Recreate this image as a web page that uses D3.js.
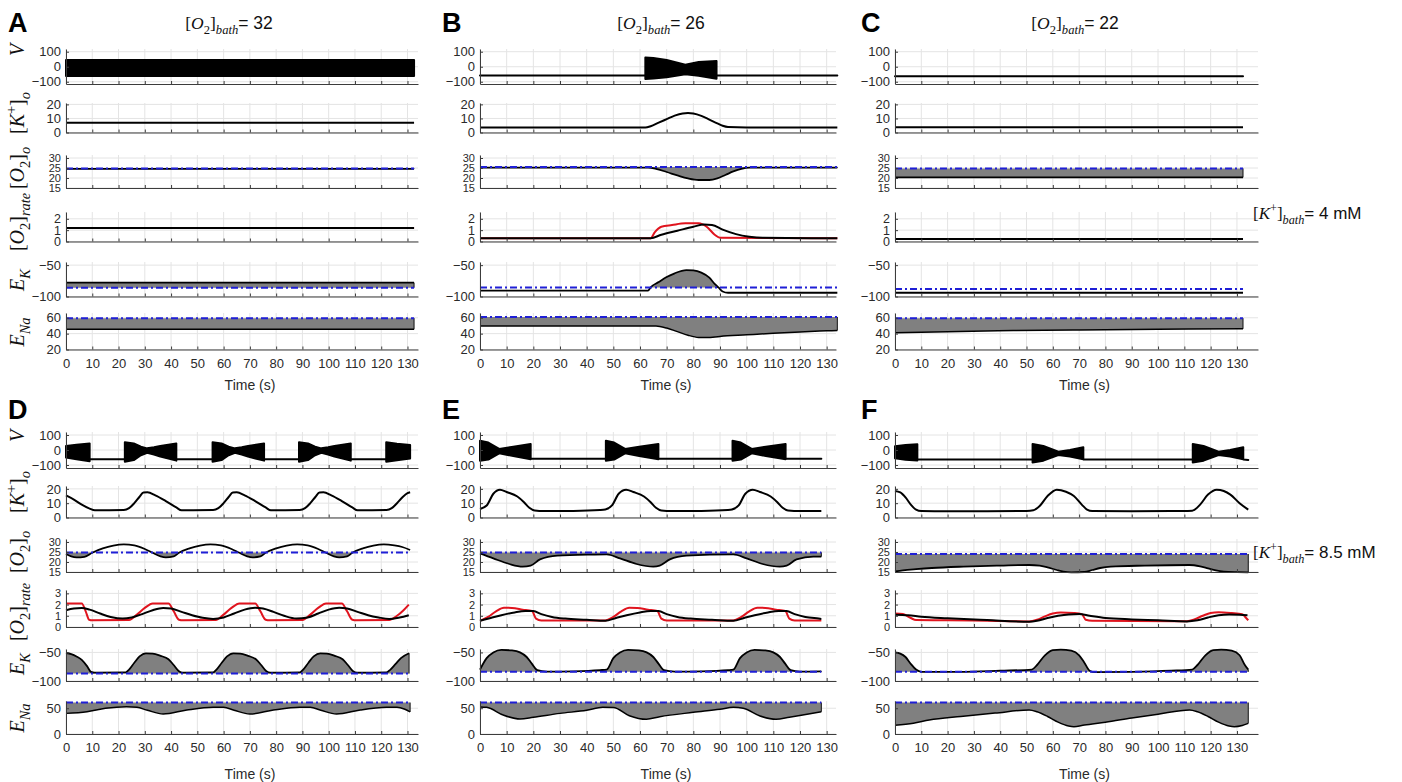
<!DOCTYPE html>
<html lang="en">
<head>
<meta charset="UTF-8">
<title>Oxygen / potassium bath simulations</title>
<script src="https://cdnjs.cloudflare.com/ajax/libs/d3/7.8.5/d3.min.js"></script>
<style>
  body { margin: 0; background: #fff; }
  svg { display: block; }
</style>
</head>
<body>
<svg width="1402" height="782"></svg>
<script>
// ---- tick labels ----
const timeTicks = [0, 10, 20, 30, 40, 50, 60, 70, 80, 90, 100, 110, 120, 130];
const vTicks = [-100, 0, 100];
const kTicks = [0, 10, 20];
const o2Ticks = [15, 20, 25, 30];
const rateTicksTop = [0, 1, 2];
const rateTicksBottom = [0, 1, 2, 3];
const ekTicks = [-100, -50];
const enaTicksTop = [20, 40, 60];
const enaTicksBottom = [0, 50];

const o2BathLabels = ["32", "26", "22"];
const kBathLabels = ["4 mM", "8.5 mM"];

// ---- thresholds (blue dash-dot), panels A..F ----
const o2Thresh = [24.8, 25.5, 24.8, 24.8, 24.8, 24.0];
const ekThresh = [-86, -85.5, -88, -87, -84, -84];
const enaThresh = [59.5, 61, 59.5, 61, 61, 61];

// ---- V envelopes: [t, upper, lower] ----
const vA = [[0, 45, -62], [132.5, 45, -62]];
const vB = [[0, -58, -58], [62, -58, -58], [62, 62, -81], [65, 58, -79], [70, 45, -70], [77, 14, -50], [82, 32, -60], [88.7, 38, -80], [88.7, -58, -58], [134, -59, -59]];
const vC = [[0, -64, -64], [132.3, -64, -64]];
const vD = [[0, 27, -50], [4, 35, -62], [9, 44, -75], [9, -62, -62],
  [22.4, -62, -62], [22.4, 51, -78], [25.8, 44, -67], [28.5, 22, -35], [30.9, 11, -18], [33.5, 18, -30], [35.9, 27, -44], [42, 44, -71], [42, -62, -62],
  [55.8, -62, -62], [55.8, 51, -78], [59.2, 44, -67], [61.9, 22, -35], [64.3, 11, -18], [66.9, 18, -30], [69.3, 27, -44], [75.4, 44, -71], [75.4, -62, -62],
  [88.7, -62, -62], [88.7, 51, -78], [92.1, 44, -67], [94.8, 22, -35], [97.2, 11, -18], [99.8, 18, -30], [102.2, 27, -44], [108.4, 44, -71], [108.4, -62, -62],
  [121.9, -62, -62], [121.9, 51, -78], [126, 42, -68], [131, 33, -56]];
const vE = [[0, 62, -71], [3.1, 50, -64], [7.2, 7, -22], [12.5, 22, -40], [19, 40, -62], [19, -58, -58],
  [47.2, -58, -58], [47.2, 62, -71], [50.3, 50, -64], [54.4, 7, -22], [59.7, 22, -40], [66.9, 40, -62], [66.9, -58, -58],
  [94.7, -58, -58], [94.7, 62, -71], [97.8, 50, -64], [101.9, 7, -22], [107.2, 22, -40], [114.6, 40, -62], [114.6, -58, -58],
  [128, -58, -58]];
const vF = [[0, 25, -55], [4, 33, -65], [8.5, 38, -70], [8.5, -64, -64],
  [52.3, -64, -64], [52.3, 40, -84], [56.4, 27, -71], [62.1, -11, -33], [66.5, 0, -44], [71.6, 18, -62], [71.6, -64, -64],
  [113.2, -64, -64], [113.2, 40, -84], [117.3, 27, -71], [123, -11, -33], [127.4, 0, -44], [132.4, 18, -62], [132.4, -64, -64],
  [134.3, -66, -66]];

// ---- [K+]o ----
const kA = [[0, 7], [132.5, 7]];
const kB = [[0, 3.6], [62, 3.6], [64, 4.5], [67, 7], [70, 9.5], [73, 12], [76, 13.6], [78, 13.9], [80, 13.5], [83, 11.8], [86, 9.2], [89, 6.5], [91, 4.8], [93, 3.9], [100, 3.6], [134, 3.6]];
const kC = [[0, 3.8], [132.3, 3.8]];
const kD = [[0, 15.4], [3, 12.5], [6, 9], [9, 6.2], [11, 5], [22, 5.2], [24, 6.5], [26, 10], [28, 14.5], [29.5, 17.5], [31, 17.6], [34, 15.5], [38, 11.5], [42, 7], [44, 5],
  [56, 5.2], [58, 6.5], [60, 10], [62, 14.5], [63.5, 17.5], [65, 17.6], [68, 15.5], [72, 11.5], [76, 7], [78, 5],
  [89, 5.2], [91, 6.5], [93, 10], [95, 14.5], [96.5, 17.5], [98, 17.6], [101, 15.5], [105, 11.5], [109, 7], [111, 5],
  [122, 5.2], [124, 6.5], [126, 10], [128, 14], [130, 17], [131, 17.6]];
const kE = [[0, 6], [2.5, 8.4], [5, 16.6], [7.5, 19.4], [10, 17.8], [14, 14.7], [16.5, 10.7], [18.5, 6.8], [20.5, 4.9], [24, 4.5], [35, 4.6], [45, 5.2],
  [47, 5.6], [49.5, 8.4], [52, 16.6], [54.8, 19.4], [57.5, 17.8], [61.5, 14.7], [64, 10.7], [66, 6.8], [68, 4.9], [72, 4.5], [83, 4.6], [93, 5.2],
  [94.5, 5.6], [97, 8.4], [99.5, 16.6], [102.3, 19.4], [105, 17.8], [109, 14.7], [111.5, 10.7], [113.5, 6.8], [115.5, 4.9], [120, 4.5], [128, 4.6]];
const kF = [[0, 18.5], [2, 17.5], [4, 14], [6, 9], [8, 5.5], [10, 4.5], [20, 4.3], [35, 4.4], [50, 4.6], [52.6, 5], [55, 8], [58, 15], [61.5, 19.4], [65, 18], [68, 15], [71, 9], [73, 5.5], [75, 4.5],
  [90, 4.4], [105, 4.5], [113, 4.8], [116, 9], [119, 16], [122.3, 19.4], [125, 18.5], [127.5, 16], [131, 10], [134.3, 5.5]];

// ---- [O2]o ----
const o2A = [[0, 24.6], [132.5, 24.6]];
const o2B = [[0, 25.2], [63, 25.2], [66, 24.6], [70, 23], [74, 21.3], [78, 19.8], [82, 19], [86, 19], [89, 19.8], [92, 21.5], [95, 23.3], [98, 24.6], [101, 25.2], [134, 25.2]];
const o2C = [[0, 20.3], [132.3, 20.3]];
const o2D = [[0, 24], [2, 22.8], [4, 22.3], [7, 22.6], [10, 24.6], [14, 26.8], [18, 28.2], [22, 28.8], [26, 28.3], [30, 26.5], [33, 24.6], [36, 22.8], [38, 22.3], [41, 22.8], [43, 24.6],
  [47, 26.8], [51, 28.2], [55, 28.8], [59, 28.3], [63, 26.5], [66, 24.6], [69, 22.8], [71, 22.3], [74, 22.8], [76, 24.6], [80, 26.8], [84, 28.2], [88, 28.8], [92, 28.3], [96, 26.5],
  [99, 24.6], [102, 22.8], [104, 22.3], [107, 22.8], [109, 24.6], [113, 26.8], [117, 28.2], [121, 28.8], [125, 28.3], [128, 27.5], [131, 26]];
const o2E = [[0, 24.3], [5, 21.8], [11, 19], [16, 17.7], [19, 18.2], [22.5, 21.3], [29, 23.2], [42, 23.7], [47.5, 23.8], [52.5, 21.8], [58.7, 19], [65, 17.7], [67.4, 18.2], [71.2, 21.3], [77.4, 23.2],
  [95, 23.8], [100, 21.8], [106, 19], [112.4, 17.7], [115, 18.2], [118.7, 21.3], [125, 22.7], [128, 22.7]];
const o2F = [[0, 15.3], [3, 15.8], [8, 16.4], [14, 17], [26, 17.7], [40, 18.2], [51, 18.5], [55, 18.2], [58, 17.3], [61.5, 16], [64, 15.2], [67, 14.8], [72, 15], [75, 16], [78, 17], [82, 17.7],
  [95, 18.2], [112, 18.5], [116, 17.8], [119, 16.8], [122, 15.8], [125, 15.2], [130, 14.9], [134.3, 14.8]];

// ---- [O2]rate, black and red ----
const rateBlackA = [[0, 1.2], [132.5, 1.2]];
const rateRedA = [[0, 1.2], [132.5, 1.2]];
const rateBlackB = [[0, 0.28], [64, 0.28], [68, 0.6], [74, 0.95], [80, 1.3], [84, 1.5], [87, 1.45], [91, 1.05], [96, 0.65], [101, 0.42], [106, 0.32], [134, 0.28]];
const rateRedB = [[0, 0.28], [64, 0.28], [65.5, 0.8], [68, 1.3], [72, 1.45], [77, 1.6], [82, 1.6], [85, 1.3], [88, 0.6], [90, 0.33], [134, 0.28]];
const rateBlackC = [[0, 0.22], [132.3, 0.22]];
const rateRedC = [[0, 0.22], [132.3, 0.22]];
const rateBlackD = [[0, 1.5], [3, 1.65], [6, 1.7], [9, 1.55], [13, 1.2], [17, 0.9], [21.6, 0.75], [25, 0.85], [29, 1.15], [33, 1.5], [37, 1.7], [40, 1.65], [44, 1.35], [48, 1.05], [52, 0.82],
  [56, 0.72], [60, 0.85], [64, 1.2], [68, 1.55], [72, 1.72], [75, 1.65], [79, 1.35], [83, 1.0], [87.7, 0.75], [92, 0.85], [96, 1.2], [100, 1.55], [104, 1.72], [107, 1.65], [111, 1.35],
  [115, 1.05], [119, 0.85], [123, 0.72], [127, 0.85], [130.5, 1.05]];
const rateRedD = [[0, 2.1], [6, 2.1], [7.5, 1.4], [8.8, 0.65], [10, 0.6], [24, 0.62], [27, 1.1], [30, 1.7], [33, 2.1], [39, 2.1], [41, 1.4], [43, 0.65], [44.5, 0.6],
  [57, 0.62], [60, 1.1], [63, 1.7], [66, 2.1], [72, 2.1], [74, 1.4], [76, 0.65], [77.5, 0.6], [90, 0.62], [93, 1.1], [96, 1.7], [99, 2.1], [105, 2.1], [107, 1.4], [109, 0.65], [110.5, 0.6],
  [123, 0.62], [126, 1.0], [128.5, 1.5], [130.5, 2.0]];
const rateBlackE = [[0, 0.55], [4, 0.8], [8, 1.05], [13, 1.3], [17, 1.42], [20, 1.42], [23, 1.15], [27, 0.9], [32, 0.75], [40, 0.65], [47, 0.55], [51, 0.8], [55, 1.05], [60, 1.3], [64, 1.42],
  [67, 1.42], [70, 1.15], [74, 0.9], [79, 0.75], [87, 0.65], [95, 0.55], [99, 0.8], [103, 1.05], [108, 1.3], [112, 1.42], [115, 1.42], [118, 1.15], [122, 0.9], [127, 0.75], [128, 0.72]];
const rateRedE = [[0, 0.55], [3, 0.9], [6, 1.4], [9, 1.72], [12, 1.7], [16, 1.55], [19.5, 1.42], [21, 0.75], [23, 0.58], [47, 0.58], [50, 0.9], [53, 1.4], [56, 1.72], [59, 1.7], [63, 1.55],
  [66.5, 1.42], [68, 0.75], [70, 0.58], [95, 0.58], [98, 0.9], [101, 1.4], [104, 1.72], [107, 1.7], [111, 1.55], [114.5, 1.42], [116, 0.75], [118, 0.58], [128, 0.58]];
const rateBlackF = [[0, 1.1], [5, 1.05], [10, 0.92], [20, 0.78], [35, 0.62], [51, 0.47], [54, 0.55], [58, 0.8], [62, 1.0], [66, 1.12], [70, 1.15], [74, 1.0], [80, 0.8], [90, 0.68],
  [100, 0.6], [111, 0.5], [115, 0.6], [119, 0.85], [123, 1.05], [127, 1.12], [131, 1.1], [134, 1.05]];
const rateRedF = [[0, 1.2], [3, 1.15], [6, 0.8], [8, 0.62], [20, 0.6], [35, 0.55], [51, 0.5], [54, 0.65], [57, 0.95], [60, 1.2], [63, 1.3], [68, 1.25], [71, 1.15], [72.5, 0.65], [75, 0.55],
  [111, 0.52], [114, 0.7], [117, 1.0], [120, 1.25], [123, 1.32], [128, 1.25], [132, 1.15], [133.5, 0.8], [134.3, 0.6]];

// ---- E_K ----
const ekA = [[0, -78], [132.5, -78]];
const ekB = [[0, -90.7], [63, -90.7], [64, -85.5], [67, -77], [70, -69], [73, -63], [77.4, -58], [80, -58.5], [83, -62], [86, -70], [88, -80], [89.5, -86], [91, -92], [93, -94], [134, -94]];
const ekC = [[0, -94], [132.3, -94]];
const ekD = [[0, -51], [2, -53], [4, -57], [6, -63], [8, -74], [9.5, -84], [11, -85.5], [22.7, -85], [24, -80], [26, -68], [28, -57], [30.4, -51.5], [33, -52], [36, -56], [39, -62], [41, -72],
  [43, -83], [44.5, -85.5], [56, -85], [57.3, -80], [59.3, -68], [61.3, -57], [63.7, -51.5], [66.3, -52], [69.3, -56], [72.3, -62], [74.3, -72], [76.3, -83], [77.8, -85.5],
  [89, -85], [90.3, -80], [92.3, -68], [94.3, -57], [96.8, -51.5], [99.3, -52], [102.3, -56], [105.3, -62], [107.3, -72], [109.3, -83], [110.8, -85.5],
  [122, -85], [123.5, -80], [125.5, -70], [127.5, -60], [130.6, -51.5]];
const ekE = [[0, -80], [2.5, -60], [5, -50], [8, -45.5], [12, -46.5], [15, -50], [17.5, -58], [19.5, -70], [21.5, -81], [25, -83.5], [35, -83], [45, -81],
  [47.5, -80], [50, -60], [52.5, -50], [55.5, -45.5], [59.5, -46.5], [62.5, -50], [65, -58], [67, -70], [69, -81], [73, -83.5], [83, -83], [93, -81],
  [95, -80], [97.5, -60], [100, -50], [103, -45.5], [107, -46.5], [110, -50], [112.5, -58], [114.5, -70], [116.5, -81], [120, -83.5], [128, -83]];
const ekF = [[0, -50], [2, -52], [4, -58], [6, -70], [8, -80], [10, -84], [25, -84], [40, -82], [52, -80], [54, -72], [57, -55], [60, -46], [63, -45], [67, -47], [70, -55], [72, -68],
  [74, -82], [76, -84.5], [90, -84], [105, -82], [113, -80], [115, -72], [118, -55], [121, -46], [124, -45], [128, -47], [131, -55], [133, -72], [134.3, -80]];

// ---- E_Na ----
const enaA = [[0, 45.5], [132.5, 45.5]];
const enaB = [[0, 49.6], [66, 49.6], [70, 47], [74, 42.5], [78, 38], [82, 35.2], [85, 35], [90, 36.5], [100, 38.5], [110, 40.5], [120, 42.2], [130, 43.5], [134, 44]];
const enaC = [[0, 41.2], [20, 42.5], [45, 43.8], [70, 44.7], [100, 45.5], [132.3, 46]];
const enaD = [[0, 40], [8, 43.2], [15, 49.8], [23, 52.9], [27, 51.7], [31, 46], [37, 38.8], [46, 46.5], [56, 51.7], [60, 51.7], [64, 46], [70, 38.8], [79, 46.5], [89, 51.7], [93, 51.7],
  [97, 46], [103, 38.8], [112, 46.5], [122, 51.7], [126, 52], [129, 48], [131, 43]];
const enaE = [[0, 52.5], [2.5, 51.7], [8.7, 36.8], [15, 29], [20, 32.4], [30, 40], [40, 46], [46, 51.7], [50, 51.5], [56, 35.5], [62.4, 28.5], [67.4, 33.5], [80, 42], [90, 48],
  [95, 51.7], [98.7, 49.8], [105, 34.9], [111, 28.5], [116, 32.4], [128, 43.2]];
const enaF = [[0, 17], [7, 21], [13, 27], [25, 34], [38, 40.5], [51, 46.5], [54, 43], [58, 34], [62, 23], [66, 15.5], [68, 14.2], [72, 17.5], [80, 23], [90, 31], [100, 38.5],
  [112, 46.5], [115, 43], [119, 34], [123, 23], [127, 15.5], [129, 14.2], [132, 16.5], [134.3, 20.7]];

// ---- layout ----
const sans = "'Liberation Sans', Arial, sans-serif";
const serif = "'Liberation Serif', 'DejaVu Serif', serif";
const blue = "#1f1fd6", red = "#e0141e", gray = "#808080", gridCol = "#e4e4e4", axisCol = "#3c3c3c";

const cols = [
  {x0: 66, x1: 418, tMax: 134},
  {x0: 480, x1: 836, tMax: 133.5},
  {x0: 895, x1: 1258, tMax: 138}
];

// tickFont: size of y tick labels (crowded axes get a smaller one)
const rowsTop = [
  {domain: [-115, 118], range: [84, 49], ticks: vTicks, tickFont: 13},
  {domain: [0, 21], range: [132.5, 103], ticks: kTicks, tickFont: 13},
  {domain: [15, 31.5], range: [188, 155], ticks: o2Ticks, tickFont: 11},
  {domain: [0, 2.6], range: [241.5, 212], ticks: rateTicksTop, tickFont: 12.5},
  {domain: [-100, -45], range: [296.5, 262], ticks: ekTicks, tickFont: 13},
  {domain: [20, 66], range: [349.5, 313], ticks: enaTicksTop, tickFont: 13}
];
const rowsBottom = [
  {domain: [-120, 120], range: [468, 432], ticks: vTicks, tickFont: 13},
  {domain: [0, 22], range: [517.5, 486], ticks: kTicks, tickFont: 13},
  {domain: [15, 31.5], range: [572, 539], ticks: o2Ticks, tickFont: 11},
  {domain: [0, 3.3], range: [627, 590], ticks: rateTicksBottom, tickFont: 11},
  {domain: [-100, -44], range: [681, 649], ticks: ekTicks, tickFont: 13},
  {domain: [0, 64], range: [734, 701], ticks: enaTicksBottom, tickFont: 13}
];

const panels = [
  {id: "A", col: 0, half: 0, v: vA, k: kA, o2: o2A, rk: rateBlackA, rr: rateRedA, ek: ekA, ena: enaA},
  {id: "B", col: 1, half: 0, v: vB, k: kB, o2: o2B, rk: rateBlackB, rr: rateRedB, ek: ekB, ena: enaB},
  {id: "C", col: 2, half: 0, v: vC, k: kC, o2: o2C, rk: rateBlackC, rr: rateRedC, ek: ekC, ena: enaC},
  {id: "D", col: 0, half: 1, v: vD, k: kD, o2: o2D, rk: rateBlackD, rr: rateRedD, ek: ekD, ena: enaD},
  {id: "E", col: 1, half: 1, v: vE, k: kE, o2: o2E, rk: rateBlackE, rr: rateRedE, ek: ekE, ena: enaE},
  {id: "F", col: 2, half: 1, v: vF, k: kF, o2: o2F, rk: rateBlackF, rr: rateRedF, ek: ekF, ena: enaF}
];

const svg = d3.select("svg");

// text made of pieces: r = serif upright, i = serif italic, sub/isub = subscripts, sup, s = sans
function mathText(g, parts, size) {
  const t = g.append("text").attr("font-size", size).attr("fill", "#111");
  let shift = 0;
  parts.forEach(([s, kind]) => {
    let target = 0, fs = size;
    if (kind === "sub" || kind === "isub") { target = size * 0.28; fs = size * 0.72; }
    if (kind === "sup") { target = -size * 0.4; fs = size * 0.72; }
    t.append("tspan").text(s)
      .attr("dy", (target - shift).toFixed(2))
      .attr("font-size", fs)
      .attr("font-family", kind === "s" ? sans : serif)
      .attr("font-style", (kind === "i" || kind === "isub") ? "italic" : "normal");
    shift = target;
  });
  return t;
}

function drawGrid(g, x, y, ticks, col) {
  const [yb, yt] = y.range();
  g.append("g").selectAll("line").data(timeTicks).join("line")
    .attr("x1", d => x(d)).attr("x2", d => x(d)).attr("y1", yb).attr("y2", yt)
    .attr("stroke", gridCol).attr("stroke-width", 1);
  g.append("g").selectAll("line").data(ticks).join("line")
    .attr("x1", col.x0).attr("x2", col.x1).attr("y1", d => y(d)).attr("y2", d => y(d))
    .attr("stroke", gridCol).attr("stroke-width", 1);
}

function drawAxes(g, x, y, row, showLabels) {
  const xa = d3.axisBottom(x).tickValues(timeTicks).tickSizeInner(-3).tickSizeOuter(0).tickPadding(9);
  if (!showLabels) xa.tickFormat("");
  const [yb] = y.range();
  const gx = g.append("g").attr("transform", `translate(0,${yb})`).call(xa);
  const ya = d3.axisLeft(y).tickValues(row.ticks).tickFormat(d3.format("~g"))
    .tickSizeInner(-3).tickSizeOuter(0).tickPadding(5);
  const gy = g.append("g").attr("transform", `translate(${x.range()[0]},0)`).call(ya);
  [gx, gy].forEach(a => {
    a.attr("font-family", sans).attr("font-size", 13);
    a.select(".domain").attr("stroke", axisCol);
    a.selectAll(".tick line").attr("stroke", axisCol);
    a.selectAll(".tick text").attr("fill", "#2a2a2a");
  });
  gy.attr("font-size", row.tickFont);
}

const lineGen = (x, y) => d3.line().x(d => x(d[0])).y(d => y(d[1])).curve(d3.curveMonotoneX);

// gray region between a trace and its threshold; below = fill when trace is under threshold
function drawFill(g, x, y, data, th, below) {
  const clip = d => below ? Math.min(d[1], th) : Math.max(d[1], th);
  g.append("path").datum(data)
    .attr("d", d3.area().x(d => x(d[0])).y0(y(th)).y1(d => y(clip(d))).curve(d3.curveMonotoneX))
    .attr("fill", gray);
  const last = data[data.length - 1];
  if (clip(last) !== th) {
    g.append("line").attr("x1", x(last[0])).attr("x2", x(last[0]))
      .attr("y1", y(last[1])).attr("y2", y(th)).attr("stroke", "#111").attr("stroke-width", 1);
  }
}

function drawThreshold(g, x, y, data, th) {
  g.append("line").attr("x1", x(0)).attr("x2", x(data[data.length - 1][0]))
    .attr("y1", y(th)).attr("y2", y(th))
    .attr("stroke", blue).attr("stroke-width", 2).attr("stroke-dasharray", "7,3,2,3");
}

function drawTrace(g, x, y, data, color, w) {
  g.append("path").datum(data).attr("d", lineGen(x, y))
    .attr("fill", "none").attr("stroke", color).attr("stroke-width", w)
    .attr("stroke-linejoin", "round");
}

panels.forEach((p, i) => {
  const col = cols[p.col];
  const rows = p.half === 0 ? rowsTop : rowsBottom;
  const x = d3.scaleLinear().domain([0, col.tMax]).range([col.x0, col.x1]);
  const ys = rows.map(r => d3.scaleLinear().domain(r.domain).range(r.range));
  const g = svg.append("g");

  rows.forEach((r, j) => drawGrid(g, x, ys[j], r.ticks, col));

  // V (spiking envelope)
  g.append("path").datum(p.v)
    .attr("d", d3.area().x(d => x(d[0])).y0(d => ys[0](d[2])).y1(d => ys[0](d[1])))
    .attr("fill", "#000").attr("stroke", "#000").attr("stroke-width", 2).attr("stroke-linejoin", "round");

  // [K+]o
  drawTrace(g, x, ys[1], p.k, "#000", 2);

  // [O2]o
  drawFill(g, x, ys[2], p.o2, o2Thresh[i], true);
  drawTrace(g, x, ys[2], p.o2, "#000", 1.8);
  drawThreshold(g, x, ys[2], p.o2, o2Thresh[i]);

  // [O2]rate
  drawTrace(g, x, ys[3], p.rr, red, 2);
  drawTrace(g, x, ys[3], p.rk, "#000", 2);

  // E_K
  drawFill(g, x, ys[4], p.ek, ekThresh[i], false);
  drawTrace(g, x, ys[4], p.ek, "#000", 1.8);
  drawThreshold(g, x, ys[4], p.ek, ekThresh[i]);

  // E_Na
  drawFill(g, x, ys[5], p.ena, enaThresh[i], true);
  drawTrace(g, x, ys[5], p.ena, "#000", 1.5);
  drawThreshold(g, x, ys[5], p.ena, enaThresh[i]);

  rows.forEach((r, j) => drawAxes(g, x, ys[j], r, j === rows.length - 1));

  // x label
  g.append("text").attr("x", (col.x0 + col.x1) / 2 + 8).attr("y", p.half === 0 ? 390 : 779)
    .attr("text-anchor", "middle").attr("font-family", sans).attr("font-size", 14)
    .attr("fill", "#2a2a2a").text("Time (s)");

  // panel letter
  const letterX = [8, 442, 861][p.col];
  svg.append("text").attr("x", letterX).attr("y", p.half === 0 ? 32 : 419)
    .attr("font-family", sans).attr("font-weight", "bold").attr("font-size", 27)
    .attr("fill", "#000").text(p.id);
});

// titles
const titleX = [229, 661, 1075];
o2BathLabels.forEach((lab, c) => {
  const g = svg.append("g").attr("transform", `translate(${titleX[c]},29)`);
  mathText(g, [["[", "r"], ["O", "i"], ["2", "sub"], ["]", "r"], ["bath", "isub"], ["= " + lab, "s"]], 17.5)
    .attr("text-anchor", "middle");
});

// right side labels
[[1253, 219], [1253, 558]].forEach(([lx, ly], h) => {
  const g = svg.append("g").attr("transform", `translate(${lx},${ly})`);
  mathText(g, [["[", "r"], ["K", "i"], ["+", "sup"], ["]", "r"], ["bath", "isub"], ["= " + kBathLabels[h], "s"]], 17);
});

// y labels (left column only)
const yLabelParts = [
  [["V", "i"]],
  [["[", "r"], ["K", "i"], ["+", "sup"], ["]", "r"], ["o", "isub"]],
  [["[", "r"], ["O", "i"], ["2", "sub"], ["]", "r"], ["o", "isub"]],
  [["[", "r"], ["O", "i"], ["2", "sub"], ["]", "r"], ["rate", "isub"]],
  [["E", "i"], ["K", "isub"]],
  [["E", "i"], ["Na", "isub"]]
];
const yLabelPosTop = [50, 113, 168, 222, 280, 332];
const yLabelPosBottom = [436, 492, 552, 612, 664, 718];
[yLabelPosTop, yLabelPosBottom].forEach(pos => {
  pos.forEach((py, j) => {
    const g = svg.append("g").attr("transform", `translate(24,${py}) rotate(-90)`);
    mathText(g, yLabelParts[j], 20).attr("text-anchor", "middle");
  });
});
</script>
</body>
</html>
